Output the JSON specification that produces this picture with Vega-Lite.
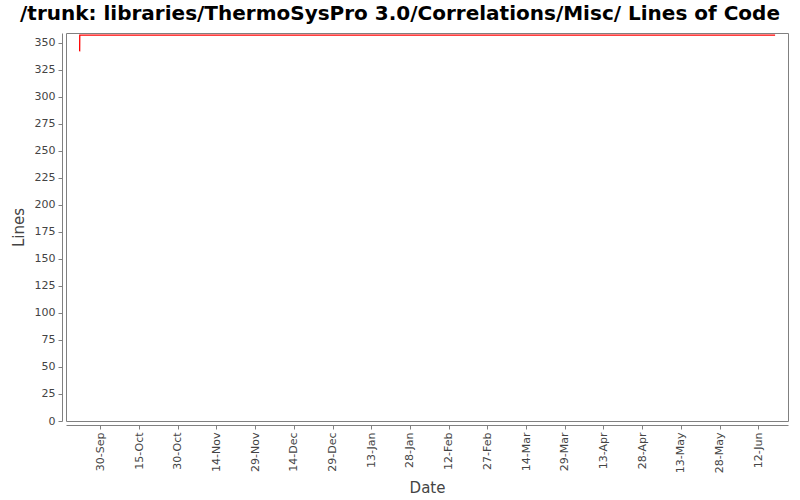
{
  "$schema": "https://vega.github.io/schema/vega-lite/v6.json",
  "width": 722,
  "height": 388,
  "autosize": "none",
  "padding": {"left": 66, "top": 33, "right": 12, "bottom": 79},
  "background": "white",
  "title": {
    "text": "/trunk: libraries/ThermoSysPro 3.0/Correlations/Misc/ Lines of Code",
    "font": "DejaVu Sans",
    "fontSize": 20,
    "fontWeight": "bold",
    "color": "#000000",
    "anchor": "middle",
    "dx": -27,
    "offset": 9
  },
  "config": {
    "view": {"stroke": "#808080", "strokeWidth": 1},
    "axis": {
      "labelFont": "DejaVu Sans",
      "labelFontSize": 11,
      "labelColor": "#444444",
      "titleFont": "DejaVu Sans",
      "titleFontSize": 15,
      "titleFontWeight": "normal",
      "titleColor": "#444444",
      "domainColor": "#808080",
      "tickColor": "#808080",
      "tickSize": 4,
      "grid": false,
      "offset": 4
    }
  },
  "data": {
    "values": [
      {"date": "2010-09-22T00:00:00Z", "lines": 342},
      {"date": "2010-09-22T01:00:00Z", "lines": 357},
      {"date": "2011-06-18T12:00:00Z", "lines": 357}
    ]
  },
  "mark": {"type": "line", "color": "#ff0000", "strokeWidth": 1.3},
  "encoding": {
    "x": {
      "field": "date",
      "type": "temporal",
      "title": "Date",
      "scale": {
        "type": "utc",
        "domain": [
          {"year": 2010, "month": 9, "date": 16, "hours": 17, "utc": true},
          {"year": 2011, "month": 6, "date": 23, "hours": 12, "utc": true}
        ]
      },
      "axis": {
        "values": [
          {"year": 2010, "month": 9, "date": 30, "utc": true},
          {"year": 2010, "month": 10, "date": 15, "utc": true},
          {"year": 2010, "month": 10, "date": 30, "utc": true},
          {"year": 2010, "month": 11, "date": 14, "utc": true},
          {"year": 2010, "month": 11, "date": 29, "utc": true},
          {"year": 2010, "month": 12, "date": 14, "utc": true},
          {"year": 2010, "month": 12, "date": 29, "utc": true},
          {"year": 2011, "month": 1, "date": 13, "utc": true},
          {"year": 2011, "month": 1, "date": 28, "utc": true},
          {"year": 2011, "month": 2, "date": 12, "utc": true},
          {"year": 2011, "month": 2, "date": 27, "utc": true},
          {"year": 2011, "month": 3, "date": 14, "utc": true},
          {"year": 2011, "month": 3, "date": 29, "utc": true},
          {"year": 2011, "month": 4, "date": 13, "utc": true},
          {"year": 2011, "month": 4, "date": 28, "utc": true},
          {"year": 2011, "month": 5, "date": 13, "utc": true},
          {"year": 2011, "month": 5, "date": 28, "utc": true},
          {"year": 2011, "month": 6, "date": 12, "utc": true}
        ],
        "labelExpr": "utcFormat(datum.value, '%d-%b')",
        "labelAngle": -90,
        "labelPadding": 3,
        "titlePadding": 8
      }
    },
    "y": {
      "field": "lines",
      "type": "quantitative",
      "title": "Lines",
      "scale": {"domain": [0, 359], "nice": false, "zero": true},
      "axis": {
        "values": [0, 25, 50, 75, 100, 125, 150, 175, 200, 225, 250, 275, 300, 325, 350],
        "labelPadding": 3,
        "titlePadding": 8
      }
    }
  }
}
